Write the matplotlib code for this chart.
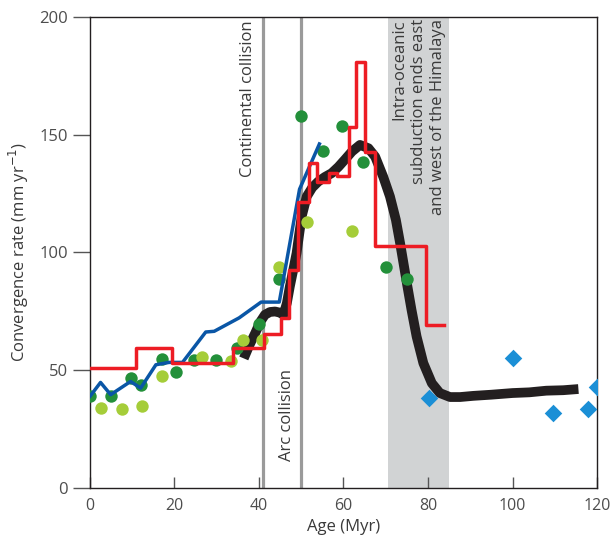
import matplotlib
matplotlib.use("Agg")
import matplotlib.pyplot as plt

plt.rcParams['font.family'] = ['Open Sans', 'DejaVu Sans']

# red step model (edges, values)
red_x = [0, 10.8, 19.4, 33.8, 41.3, 45.2, 47.0, 49.3, 51.9, 53.7, 56.5,
         58.4, 61.3, 63.0, 65.1, 67.5, 79.6, 83.7]
red_y = [51, 59.5, 53, 59.5, 65.5, 72, 92.5, 121.5, 138, 130, 133.5,
         132.5, 153, 181, 142.5, 102.5, 69, 69]

# black smoothed curve
blk_x = [36.4, 37.7, 39.1, 40.3, 41.4, 42.6, 43.8, 45.0, 45.8, 46.6, 47.3,
         48.1, 48.9, 49.5, 50.1, 51.3, 52.6, 54.0, 55.6, 57.2, 58.8, 60.4,
         62.0, 63.9, 65.9, 67.5, 69.4, 71.0, 72.4, 73.4, 74.2, 75.0, 76.1,
         77.3, 78.9, 80.9, 82.8, 85.2, 87.6, 90.7, 95, 100, 104, 108, 112, 115.6]
blk_y = [55, 60.5, 65.7, 70.5, 73.5, 74.7, 74.9, 74.4, 73.5, 78.5, 85.5,
         92.5, 99.7, 107.5, 115.2, 123.7, 127.5, 130, 132, 133.6, 136.3, 139.5,
         142.8, 145.6, 144.2, 140.6, 132.1, 123.7, 113.8, 103.9, 95.4, 86.9, 75.6,
         64.3, 53, 44.5, 40.3, 38.6, 38.6, 39.1, 39.6, 40.3, 40.6, 41.3, 41.5, 42]

# blue line
blue_x = [0, 2.5, 4.9, 9.6, 12.0, 15.6, 18.7, 21.9, 27.4, 29.4, 35.3, 40.5,
          44.8, 49.6, 54.3]
blue_y = [38.9, 44.8, 39.6, 45.2, 42.4, 52.3, 53.3, 53.3, 66.2, 66.5, 72.2,
          78.9, 78.9, 126.8, 146]

# dark green dots
dg_x = [0, 5, 9.6, 12, 17.1, 20.3, 24.7, 29.8, 34.9, 39.9, 44.7, 50, 55.1,
        59.7, 64.6, 70, 75]
dg_y = [38.9, 38.9, 46.7, 43.8, 54.8, 49.2, 54.2, 54.2, 59.4, 69.4, 88.5,
        158, 143.1, 153.5, 138.4, 93.9, 88.5]

# light green dots
lg_x = [2.5, 7.5, 12.2, 17.1, 26.5, 33.4, 36.2, 40.8, 44.8, 51.4, 62]
lg_y = [33.9, 33.5, 34.9, 47.7, 55.5, 53.8, 63, 63, 93.7, 112.9, 109.1]

# blue diamonds
bd_x = [80.2, 100, 109.5, 117.8, 119.9]
bd_y = [38.2, 55.2, 31.8, 33.5, 42.7]

txt = '#3a3a3a'

fig = plt.figure(figsize=(6.1, 5.4), dpi=100)
ax = fig.add_axes([0.1475, 0.0963, 0.8312, 0.8727])

ax.axvspan(70.5, 85, color='#d1d3d4', lw=0, zorder=0)
ax.axvline(40.9, color='#9a9a9a', lw=2.3, zorder=1)
ax.axvline(50.0, color='#9a9a9a', lw=2.3, zorder=1)

ax.plot(blk_x, blk_y, color='#231f20', lw=7, solid_capstyle='butt',
        solid_joinstyle='round', zorder=3)
ax.scatter(dg_x, dg_y, s=80, color='#23903a', lw=0, zorder=4)
ax.scatter(lg_x, lg_y, s=80, color='#a5cd39', lw=0, zorder=4)
ax.plot(blue_x, blue_y, color='#0a56a6', lw=2.5, zorder=5)
ax.plot(red_x, red_y, color='#ed1c24', lw=2.5, drawstyle='steps-post', zorder=6)
ax.scatter(bd_x, bd_y, s=80, marker='D', color='#1b8fd6', lw=0, zorder=4)

ax.text(37.5, 198.5, 'Continental collision', rotation=90, ha='center', va='top',
        fontsize=12, color=txt)
ax.text(46.7, 11.5, 'Arc collision', rotation=90, ha='center', va='bottom',
        fontsize=12, color=txt)
ax.text(77.8, 199, 'Intra-oceanic\nsubduction ends east\nand west of the Himalaya',
        rotation=90, ha='center', va='top', multialignment='right',
        fontsize=12, color=txt, linespacing=1.3)

ax.set_xlim(0, 120)
ax.set_ylim(0, 200)
ax.set_xticks([0, 20, 40, 60, 80, 100, 120])
ax.set_yticks([0, 50, 100, 150, 200])
ax.tick_params(axis='x', direction='in', length=8, width=1, color='#555555',
               labelsize=11.5, labelcolor='#4d4d4d', pad=7)
ax.tick_params(axis='y', direction='out', length=12, width=1, color='#555555',
               labelsize=12, labelcolor='#4d4d4d', pad=4)
for s in ax.spines.values():
    s.set_color('#231f20')
    s.set_linewidth(1)

ax.set_xlabel('Age (Myr)', fontsize=12, color=txt, labelpad=4)
ax.set_ylabel('Convergence rate (mm yr$^{-1}$)', fontsize=12, color=txt, labelpad=6)

fig.savefig('out.png', dpi=100)
